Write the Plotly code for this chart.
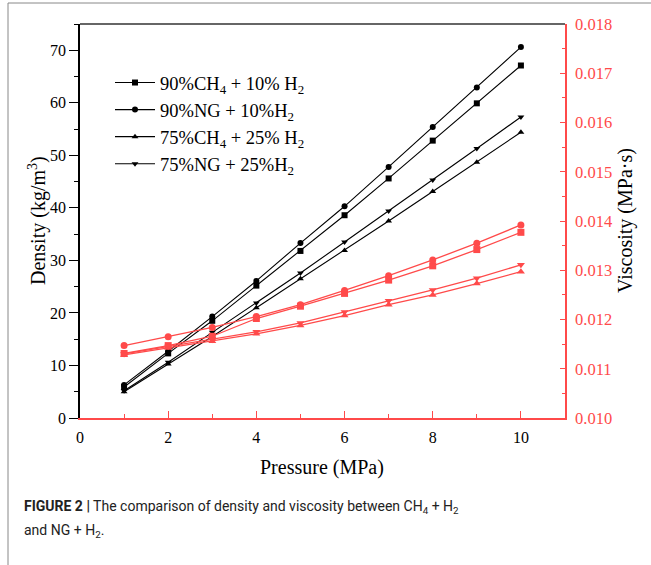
import plotly.graph_objects as go

pressure = [1, 2, 3, 4, 5, 6, 7, 8, 9, 10]

dens_90ch4 = [5.9, 12.3, 18.5, 25.2, 31.8, 38.6, 45.6, 52.8, 59.9, 67.1]
dens_90ng = [6.3, 12.7, 19.3, 26.1, 33.3, 40.3, 47.8, 55.4, 62.9, 70.6]
dens_75ch4 = [5.0, 10.3, 15.5, 21.0, 26.5, 31.9, 37.5, 43.1, 48.7, 54.4]
dens_75ng = [5.2, 10.6, 16.3, 21.9, 27.6, 33.5, 39.4, 45.3, 51.3, 57.3]

visc_90ch4 = [0.01131, 0.01147, 0.01166, 0.01202, 0.01227, 0.01253, 0.01280, 0.01309, 0.01342, 0.01377]
visc_90ng = [0.01147, 0.01165, 0.01184, 0.01206, 0.01230, 0.01259, 0.01289, 0.01321, 0.01355, 0.01392]
visc_75ch4 = [0.01128, 0.01142, 0.01156, 0.01171, 0.01188, 0.01208, 0.01230, 0.01250, 0.01273, 0.01297]
visc_75ng = [0.01130, 0.01145, 0.01159, 0.01175, 0.01193, 0.01215, 0.01238, 0.01260, 0.01284, 0.01311]

names = ["90%CH<sub>4</sub> + 10% H<sub>2</sub>", "90%NG + 10%H<sub>2</sub>",
         "75%CH<sub>4</sub> + 25% H<sub>2</sub>", "75%NG + 25%H<sub>2</sub>"]
symbols = ["square", "circle", "triangle-up", "triangle-down"]
dens = [dens_90ch4, dens_90ng, dens_75ch4, dens_75ng]
visc = [visc_90ch4, visc_90ng, visc_75ch4, visc_75ng]

RED = "#ff4a4a"
SERIF = "Liberation Serif"
SANS = "Roboto"

fig = go.Figure()
for v, s in zip(visc, symbols):
    fig.add_trace(go.Scatter(x=pressure, y=v, yaxis="y2", mode="lines+markers",
                             line=dict(color=RED, width=1.3),
                             marker=dict(symbol=s, size=7, color=RED),
                             showlegend=False))
for d, s, n in zip(dens, symbols, names):
    fig.add_trace(go.Scatter(x=pressure, y=d, mode="lines+markers", name=n,
                             line=dict(color="black", width=1.1),
                             marker=dict(symbol=s, size=6, color="black")))

W, H = 651, 565
L, R, T, B = 80, 86, 24, 147
pw, ph = W - L - R, H - T - B

def px(x):
    return (x - L) / pw

def py(y):
    return (H - B - y) / ph

fig.update_layout(
    width=W, height=H, margin=dict(l=L, r=R, t=T, b=B),
    paper_bgcolor="white", plot_bgcolor="white",
    font=dict(family=SERIF, size=16, color="black"),
    xaxis=dict(range=[0, 11], tickvals=[0, 2, 4, 6, 8, 10], ticks="inside", ticklen=7,
               tickcolor=RED, showline=True, linecolor=RED, linewidth=1.5,
               showgrid=False, zeroline=False, ticklabelstandoff=4,
               minor=dict(dtick=1, ticks="inside", ticklen=4, tickcolor=RED),
               tickfont=dict(family=SERIF, size=16, color="black")),
    yaxis=dict(range=[0, 75], dtick=10, ticks="outside", ticklen=9, tickcolor="black",
               showline=True, linecolor="black", linewidth=1.5, showgrid=False, zeroline=False,
               ticklabelstandoff=0,
               minor=dict(dtick=5, ticks="outside", ticklen=4, tickcolor="black"),
               tickfont=dict(family=SERIF, size=16, color="black")),
    yaxis2=dict(range=[0.010, 0.018], dtick=0.001, tickformat=".3f", overlaying="y", side="right",
                ticks="inside", ticklen=5, tickcolor=RED, showline=True, linecolor=RED, linewidth=1.5,
                showgrid=False, zeroline=False, ticklabelstandoff=5,
                minor=dict(dtick=0.0005, ticks="inside", ticklen=3, tickcolor=RED),
                tickfont=dict(family=SERIF, size=16.5, color=RED)),
    legend=dict(x=px(110), y=py(64), xanchor="left", yanchor="top", bgcolor="rgba(0,0,0,0)",
                font=dict(family=SERIF, size=18.5), tracegroupgap=0, itemwidth=40),
    shapes=[
        dict(type="line", xref="paper", yref="paper", x0=0, x1=1, y0=1, y1=1,
             line=dict(color="#333", width=1.5)),
        dict(type="line", xref="paper", yref="paper", x0=px(8), x1=px(8), y0=py(3), y1=py(565),
             line=dict(color="#888", width=1)),
        dict(type="line", xref="paper", yref="paper", x0=px(8), x1=px(651), y0=py(3), y1=py(3),
             line=dict(color="#888", width=1)),
    ],
    annotations=[
        dict(xref="paper", yref="paper", x=px(322), y=py(467), xanchor="center", yanchor="middle",
             showarrow=False, text="Pressure (MPa)", font=dict(family=SERIF, size=20)),
        dict(xref="paper", yref="paper", x=px(37), y=py(221), xanchor="center", yanchor="middle",
             showarrow=False, textangle=-90, text="Density (kg/m<sup>3</sup>)",
             font=dict(family=SERIF, size=20)),
        dict(xref="paper", yref="paper", x=px(625), y=py(221), xanchor="center", yanchor="middle",
             showarrow=False, textangle=-90, text="Viscosity (MPa·s)",
             font=dict(family=SERIF, size=20)),
        dict(xref="paper", yref="paper", x=px(22), y=py(507), xanchor="left", yanchor="middle",
             showarrow=False, align="left",
             text="<b>FIGURE 2 |</b> The comparison of density and viscosity between CH<sub>4</sub> + H<sub>2</sub>",
             font=dict(family=SANS, size=14, color="#222")),
        dict(xref="paper", yref="paper", x=px(22), y=py(531), xanchor="left", yanchor="middle",
             showarrow=False, align="left",
             text="and NG + H<sub>2</sub>.",
             font=dict(family=SANS, size=14, color="#222")),
    ],
)

fig.write_html("out.html")
